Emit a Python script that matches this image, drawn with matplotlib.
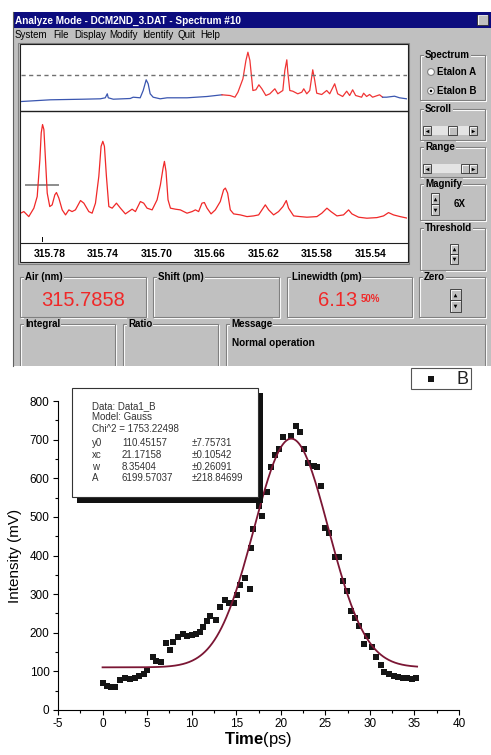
import numpy as np
import matplotlib
matplotlib.use('Agg')
import matplotlib.pyplot as plt
from matplotlib.patches import Rectangle, Circle

plt.rcParams['font.family'] = ['Liberation Sans', 'DejaVu Sans']
plt.rcParams['mathtext.fontset'] = 'custom'
plt.rcParams['mathtext.rm'] = 'Liberation Sans'
plt.rcParams['mathtext.bf'] = 'Liberation Sans:bold'
plt.rcParams['axes.unicode_minus'] = False

# ---- spectrum overview (channel, counts) ----
ov_blue_l_ch = [21, 50, 83, 100, 105, 107, 108, 113, 130, 133, 140, 143, 146, 148, 150, 153, 160, 167, 187, 207, 222]
ov_blue_l_ct = [9, 10.7, 11.3, 11.7, 12.7, 16.7, 12.7, 11.3, 12, 13.3, 12.7, 20, 30.7, 26.7, 16.7, 13.3, 11.7, 12.7, 12.7, 14, 15.7]
ov_red_ch = [222, 230, 235, 238, 243, 246, 248, 250, 252, 253, 256, 259, 262, 266, 270, 275, 278, 283, 285, 287,
             288, 290, 293, 298, 302, 304, 307, 310, 313, 315, 317, 322, 327, 330, 335, 338, 343, 347, 350, 353,
             356, 362, 364, 367, 370, 373, 380, 383]
ov_red_ct = [15.7, 15, 13.3, 18.3, 31.7, 50, 58.3, 50, 30, 20, 20.7, 25.7, 21.7, 15, 16.7, 21.7, 16.7, 20, 40, 50.7,
             38.3, 20, 19.3, 16.7, 18.3, 21.7, 16.7, 20, 40.7, 30, 17.3, 16, 20, 16.7, 26.7, 16.7, 14, 19.3, 15, 20.7,
             15, 13.3, 17.3, 14, 16, 13.3, 15.7, 13.3]
ov_blue_r_ch = [383, 387, 395, 400, 407]
ov_blue_r_ct = [13.3, 13.3, 14.3, 12.7, 11.7]
threshold = 35.7

# ---- magnified spectrum (wavelength nm, counts) ----
wl = [315.8017, 315.7992, 315.7955, 315.7917, 315.7892, 315.7872, 315.7862, 315.7852, 315.7842, 315.7830,
      315.7817, 315.7798, 315.7780, 315.7760, 315.7748, 315.7730, 315.7705, 315.7680, 315.7655, 315.7631,
      315.7606, 315.7568, 315.7543, 315.7506, 315.7481, 315.7456, 315.7431, 315.7414, 315.7401, 315.7389,
      315.7374, 315.7356, 315.7331, 315.7299, 315.7269, 315.7232, 315.7182, 315.7157, 315.7120, 315.7095,
      315.7070, 315.7032, 315.6995, 315.6970, 315.6950, 315.6940, 315.6928, 315.6913, 315.6895, 315.6858,
      315.6821, 315.6771, 315.6733, 315.6708, 315.6684, 315.6659, 315.6641, 315.6621, 315.6591, 315.6559,
      315.6522, 315.6497, 315.6484, 315.6467, 315.6447, 315.6422, 315.6372, 315.6322, 315.6272, 315.6235,
      315.6210, 315.6185, 315.6160, 315.6123, 315.6086, 315.6053, 315.6028, 315.6011, 315.5973, 315.5924,
      315.5874, 315.5799, 315.5762, 315.5724, 315.5694, 315.5649, 315.5600, 315.5562, 315.5537, 315.5487,
      315.5425, 315.5350, 315.5300, 315.5263, 315.5226, 315.5176, 315.5121]
counts = [29.7, 31.3, 26.3, 34.7, 46.3, 83, 109.7, 118, 113, 83,
          49.7, 36.3, 38, 48, 50.3, 44.7, 33, 28, 33, 31.3,
          33, 42.3, 39.7, 31.3, 29.7, 39.7, 66.3, 96.3, 101.3, 96.3,
          66.3, 36.3, 34.7, 39.7, 34.7, 29, 33.7, 31.3, 41.3, 39.7,
          34.7, 33, 43, 58, 74.7, 81.3, 71.3, 43, 34.7, 33.7,
          33, 29.7, 31.3, 33, 31.3, 39.7, 40.3, 34.7, 29, 33,
          41.3, 53, 54.7, 49.7, 33, 29, 28, 26.3, 27, 28,
          33, 38, 33, 28, 31.3, 36.3, 42.3, 34.7, 27, 26.3,
          25.7, 26.3, 29.7, 34.7, 31.3, 27, 28, 33, 29, 25.7,
          24.7, 25.3, 27, 30.3, 28, 26.3, 24.7]
tick_wl = [315.78, 315.74, 315.70, 315.66, 315.62, 315.58, 315.54]
air_nm = 315.7858
cursor_wl = [315.7979, 315.7735]
cursor_ct = 58

# ---- time trace (ps, mV) ----
time_ps = [0.0, 0.45, 0.9, 1.4, 1.95, 2.5, 3.05, 3.6, 4.1, 4.65, 5.0, 5.7, 6.05, 6.6, 7.1, 7.55, 7.9, 8.5,
           9.0, 9.5, 10.0, 10.5, 10.9, 11.3, 11.75, 12.1, 12.7, 13.2, 13.7, 14.2, 14.7, 15.05, 15.4, 16.0,
           16.5, 16.7, 16.9, 17.5, 17.9, 18.4, 18.9, 19.4, 19.8, 20.3, 21.2, 21.7, 22.2, 22.6, 23.1, 23.7,
           24.1, 24.5, 25.0, 25.4, 26.1, 26.5, 27.0, 27.4, 27.9, 28.35, 28.8, 29.3, 29.7, 30.2, 30.7, 31.2,
           31.6, 32.1, 32.65, 33.2, 33.7, 34.2, 34.7, 35.2]
intensity = [69, 62, 59, 60, 78, 82, 79, 82, 88, 93, 104, 138, 127, 125, 173, 155, 177, 188,
             198, 192, 194, 198, 203, 216, 231, 243, 233, 266, 285, 276, 276, 298, 324, 341,
             312, 420, 468, 528, 503, 564, 628, 660, 675, 708, 709, 734, 719, 676, 640, 632,
             630, 581, 470, 459, 397, 397, 335, 309, 257, 237, 217, 171, 192, 162, 136, 117,
             99, 93, 88, 85, 83, 82, 81, 82]
# Gauss fit parameters shown in the box
y0, y0_err = 110.45157, 7.75731
xc, xc_err = 21.17158, 0.10542
w, w_err = 8.35404, 0.26091
A, A_err = 6199.57037, 218.84699
chi2 = 1753.22498

GREY = '#c0c0c0'
DARK = '#808080'

fig = plt.figure(figsize=(4.91, 7.55), dpi=100)

# pixel-space layer for the window chrome
ui = fig.add_axes([0, 0, 1, 1], zorder=0)
ui.set_xlim(0, 491)
ui.set_ylim(755, 0)
ui.axis('off')


def rect(x0, y0, x1, y1, **kw):
    ui.add_patch(Rectangle((x0, y0), x1 - x0, y1 - y0, **kw))


def groupbox(x0, y0, x1, y1, label):
    rect(x0 + 1, y0 + 1, x1 + 1, y1 + 1, fill=False, ec='white', lw=0.8)
    rect(x0, y0, x1, y1, fill=False, ec=DARK, lw=0.8)
    ui.text(x0 + 5, y0, label, fontsize=7, fontweight='bold', va='center', ha='left',
            bbox=dict(fc=GREY, ec='none', pad=0.6))


def button(x0, y0, x1, y1, marker=None):
    rect(x0, y0, x1, y1, fc=GREY, ec='#303030', lw=0.6)
    ui.plot([x0 + 0.6, x0 + 0.6, x1 - 1], [y1 - 1, y0 + 0.6, y0 + 0.6], color='white', lw=0.6)
    if marker:
        ui.plot((x0 + x1) / 2, (y0 + y1) / 2, marker=marker, color='black', ms=2.6, mew=0)


# window body, title bar, menu
rect(13, 12, 492, 366, fc=GREY, ec='none')
ui.plot([13.5, 13.5], [12, 366], color='#606060', lw=0.8)
rect(13, 12, 492, 28, fc='#0c0c7e', ec='none')
ui.text(15, 20.5, 'Analyze Mode - DCM2ND_3.DAT - Spectrum #10', color='white', fontsize=7.2,
        fontweight='bold', va='center', ha='left')
button(477, 14.5, 488, 25, marker='x')
menu = [('System', 15), ('File', 53), ('Display', 74), ('Modify', 109), ('Identify', 142), ('Quit', 178), ('Help', 200)]
for name, mx in menu:
    ui.text(mx, 35, name, fontsize=7, va='center', ha='left', color='black')

# spectrum frame
rect(18.5, 42.5, 409.5, 263.5, fc='none', ec=DARK, lw=0.8)
rect(20, 44, 408, 262, fc='white', ec='#202020', lw=0.8)

# right column controls
groupbox(420, 55, 485, 100, 'Spectrum')
for label, ry, sel in [('Etalon A', 72, False), ('Etalon B', 91, True)]:
    ui.add_patch(Circle((431, ry), 3.4, fc='white', ec=DARK, lw=0.8))
    if sel:
        ui.add_patch(Circle((431, ry), 1.3, fc='black', ec='none'))
    ui.text(437, ry, label, fontsize=7, fontweight='bold', va='center', ha='left')
groupbox(420, 109, 485, 140, 'Scroll')
rect(423, 126, 477, 135, fc='#e4e4e4', ec='none')
button(423, 126, 431, 135, marker='<')
button(469, 126, 477, 135, marker='>')
button(448, 126, 457, 135)
groupbox(420, 147, 485, 177, 'Range')
rect(423, 164, 477, 173, fc='#e4e4e4', ec='none')
button(423, 164, 431, 173, marker='<')
button(469, 164, 477, 173, marker='>')
button(461, 164, 469, 173)
groupbox(420, 184, 485, 220, 'Magnify')
button(431, 193, 439, 204, marker='^')
button(431, 204, 439, 215, marker='v')
ui.text(460, 204, '6X', fontsize=7, fontweight='bold', va='center', ha='center')
groupbox(420, 228, 485, 270, 'Threshold')
button(450, 244, 458, 254, marker='^')
button(450, 254, 458, 264, marker='v')

# readout fields
groupbox(20, 277, 146, 317, 'Air (nm)')
ui.text(83, 301, f'{air_nm:.4f}', color='#f02828', fontsize=14.5, va='center', ha='center')
groupbox(153, 277, 279, 317, 'Shift (pm)')
groupbox(287, 277, 412, 317, 'Linewidth (pm)')
ui.text(338, 301, '6.13', color='#f02828', fontsize=14.5, va='center', ha='center')
ui.text(361, 299, '50%', color='#f02828', fontsize=7, fontweight='bold', va='center', ha='left')
groupbox(419, 277, 485, 317, 'Zero')
button(450, 289, 461, 300, marker='^')
button(450, 300, 461, 312, marker='v')
groupbox(20, 324, 115, 372, 'Integral')
groupbox(123, 324, 218, 372, 'Ratio')
groupbox(226, 324, 485, 372, 'Message')
ui.text(232, 343, 'Normal operation', fontsize=7.2, fontweight='bold', va='center', ha='left')
rect(0, 366, 491, 380, fc='white', ec='none')


def px_axes(x0, y0, x1, y1, z=2):
    return fig.add_axes([x0 / 491, 1 - y1 / 755, (x1 - x0) / 491, (y1 - y0) / 755], zorder=z)


# overview trace
ax_o = px_axes(20.5, 44.5, 407.5, 110.5, z=3)
ax_o.patch.set_alpha(0)
ax_o.plot(ov_blue_l_ch, ov_blue_l_ct, color='#3a56b0', lw=0.9)
ax_o.plot(ov_red_ch, ov_red_ct, color='#f03434', lw=0.9)
ax_o.plot(ov_blue_r_ch, ov_blue_r_ct, color='#3a56b0', lw=0.9)
ax_o.axhline(threshold, color='#707070', lw=1, dashes=(3, 2.5))
ax_o.set_xlim(20, 408)
ax_o.set_ylim(0, 66)
ax_o.set_xticks([])
ax_o.set_yticks([])
for s in ['top', 'left', 'right']:
    ax_o.spines[s].set_visible(False)
ax_o.spines['bottom'].set_color('#202020')
ax_o.spines['bottom'].set_linewidth(1.0)

# magnified spectrum
ax_s = px_axes(20.5, 111.5, 407.5, 243)
ax_s.patch.set_alpha(0)
ax_s.plot(cursor_wl, [cursor_ct, cursor_ct], color='#8c8c8c', lw=1.4, zorder=1)
ax_s.plot(wl, counts, color='#f02828', lw=0.9, zorder=2)
ax_s.plot([air_nm, air_nm], [2, 6], color='black', lw=0.7)
ax_s.set_xlim(315.8017, 315.5121)
ax_s.set_ylim(0, 131)
ax_s.set_yticks([])
ax_s.set_xticks(tick_wl)
ax_s.set_xticklabels([f'{t:.2f}' for t in tick_wl], fontsize=7.5, fontweight='bold')
ax_s.tick_params(axis='x', length=0, pad=4)
for s in ['top', 'left', 'right']:
    ax_s.spines[s].set_visible(False)
ax_s.spines['bottom'].set_color('#202020')

# time trace with Gauss fit
ax = px_axes(58, 401, 459, 710)
ax.plot(time_ps, intensity, 's', color='#151515', ms=5, mew=0, zorder=3)
tf = np.linspace(0, 35.3, 400)
fit = y0 + A / (w * np.sqrt(np.pi / 2)) * np.exp(-2 * ((tf - xc) / w) ** 2)
ax.plot(tf, fit, color='#7b1634', lw=1.3, zorder=4)
ax.set_xlim(-5, 40)
ax.set_ylim(0, 800)
ax.set_xticks(np.arange(-5, 41, 5))
ax.set_xticks(np.arange(-2.5, 40, 5), minor=True)
ax.set_yticks(np.arange(0, 801, 100))
ax.set_yticks(np.arange(50, 800, 100), minor=True)
ax.tick_params(which='major', direction='out', length=3.6, width=0.8, labelsize=8.5, pad=2.5)
ax.tick_params(which='minor', direction='out', length=2.2, width=0.8)
for s in ['top', 'right']:
    ax.spines[s].set_visible(False)
ax.set_ylabel('Intensity (mV)', fontsize=11)
ax.yaxis.set_label_coords(-0.09, 0.5)
ax.set_xlabel(r'$\mathbf{Time}$(ps)', fontsize=12)
ax.xaxis.set_label_coords(0.5, -0.065)

# overlay: fit results box and legend
ov = fig.add_axes([0, 0, 1, 1], zorder=10)
ov.set_xlim(0, 491)
ov.set_ylim(755, 0)
ov.axis('off')
ov.patch.set_alpha(0)
ov.add_patch(Rectangle((77, 393), 186, 110, fc='#111111', ec='none'))
ov.add_patch(Rectangle((72, 388), 186, 109, fc='white', ec='#333333', lw=0.8))
box_lines = [(406, 'Data: Data1_B'), (417, 'Model: Gauss'), (429, f'Chi^2 = {chi2:.5f}')]
for ty, txt in box_lines:
    ov.text(92, ty, txt, fontsize=7, color='#333333', va='center', ha='left')
for ty, (name, val, err) in zip([443, 455, 467, 478],
                                [('y0', y0, y0_err), ('xc', xc, xc_err), ('w', w, w_err), ('A', A, A_err)]):
    ov.text(92, ty, name, fontsize=7, color='#333333', va='center', ha='left')
    ov.text(122, ty, f'{val:.5f}', fontsize=7, color='#333333', va='center', ha='left')
    ov.text(192, ty, f'\u00b1{err:.5f}', fontsize=7, color='#333333', va='center', ha='left')

ov.add_patch(Rectangle((411, 368), 60, 21, fc='white', ec='#555555', lw=0.8))
ov.plot(431, 379, 's', color='#151515', ms=5, mew=0)
ov.text(457, 379, 'B', fontsize=13, color='#222222', va='center', ha='left')

fig.savefig('out.png', dpi=100)
